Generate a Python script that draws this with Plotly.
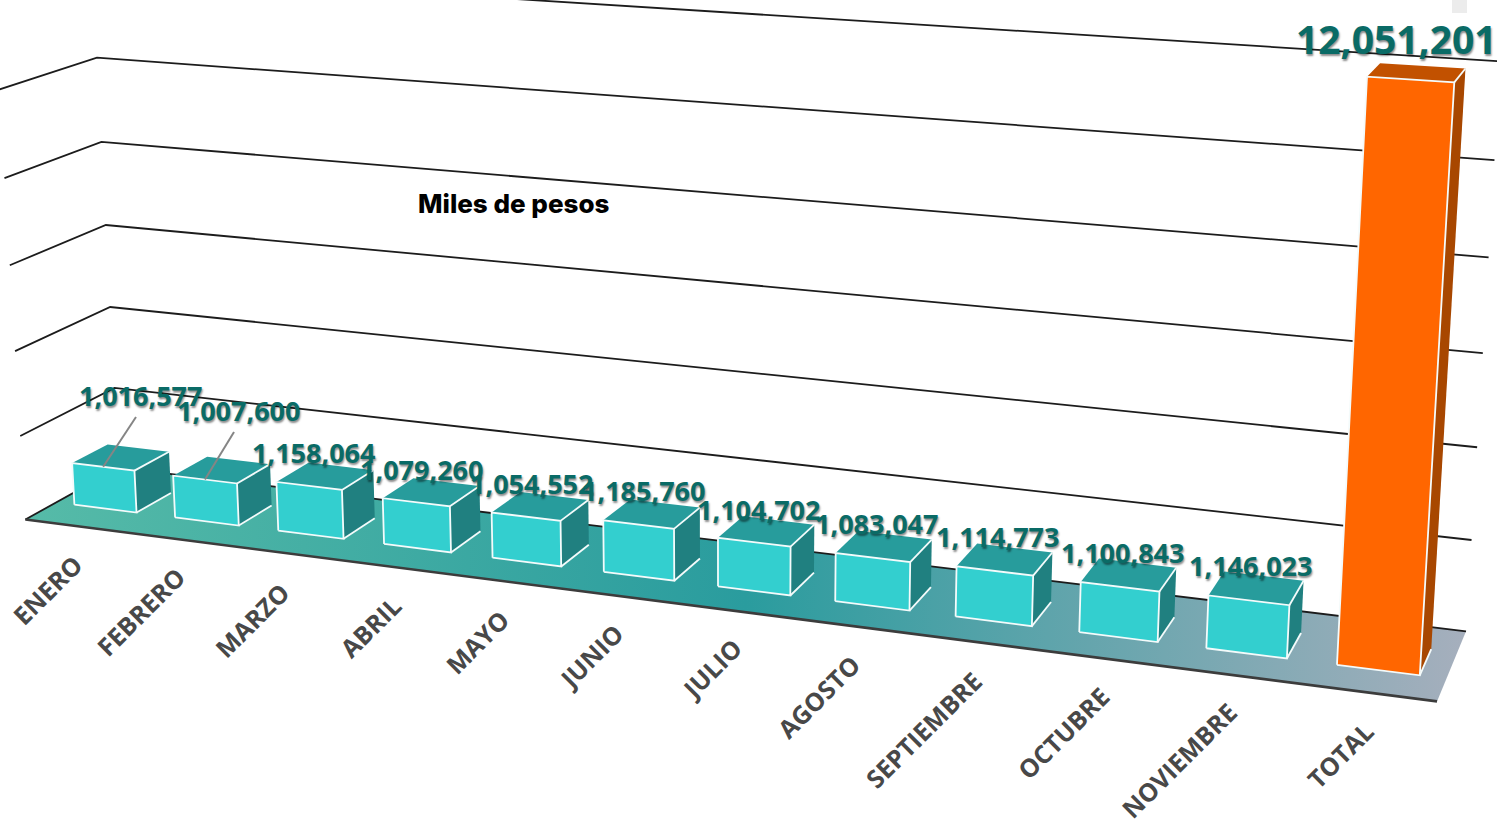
import numpy as np
import plotly.graph_objects as go

# ---------- data ----------
CATEGORIES = ["ENERO", "FEBRERO", "MARZO", "ABRIL", "MAYO", "JUNIO", "JULIO",
              "AGOSTO", "SEPTIEMBRE", "OCTUBRE", "NOVIEMBRE", "TOTAL"]
VALUES = [1016577, 1007600, 1158064, 1079260, 1054552, 1185760, 1104702,
          1083047, 1114773, 1100843, 1146023, 12051201]
VALUE_LABELS = [f"{v:,}" for v in VALUES]
GRID_VALUES = [0, 2000000, 4000000, 6000000, 8000000, 10000000, 12000000]
AXIS_TITLE = "Miles de pesos"

# ---------- layout: label centres on the canvas ----------
LABEL_POS = [(140, 395), (238, 410), (313, 452), (421, 469), (531, 483), (643, 490),
             (758, 509), (876, 523), (997, 536), (1122, 552), (1250, 565), (1396, 38)]
TICK_POS = [(47, 590), (140, 612), (252, 620), (370, 627), (477, 642), (591, 656),
            (711, 669), (818, 697), (923, 730), (1063, 733), (1179, 760), (1340, 755)]
W, H = 1497, 825
HALF = 0.31


# ---------- perspective view calibrations (scene coordinate -> canvas) ----------
def fit(cal):
    A, b = [], []
    for (p, q, r), (x, y) in cal:
        A.append([1, p, q, r, 0, 0, 0, 0, -x * p, -x * q, -x * r]); b.append(x)
        A.append([0, 0, 0, 0, 1, p, q, r, -y * p, -y * q, -y * r]); b.append(y)
    s = np.linalg.lstsq(np.array(A, float), np.array(b, float), rcond=None)[0]

    def proj(p, q, r):
        d = 1 + s[8] * p + s[9] * q + s[10] * r
        return (s[0] + s[1] * p + s[2] * q + s[3] * r) / d, (s[4] + s[5] * p + s[6] * q + s[7] * r) / d
    return proj


wall = fit([
    ((0, 0, 0), (26, 519)), ((1, 0, 0), (1437, 702)), ((1, 1, 0), (1465, 631)), ((0, 1, 0), (120, 470)),
    ((0, 1, 2), (115, 388)), ((0, 1, 4), (109, 306)), ((0, 1, 6), (105, 224)), ((0, 1, 8), (101, 141)), ((0, 1, 10), (97, 57)),
    ((0, 0, 2), (20, 436)), ((0, 0, 4), (15, 351)), ((0, 0, 6), (9, 265)), ((0, 0, 8), (4, 178)), ((0, 0, 10), (0, 90)),
    ((1, 1, 2), (1472, 540)), ((1, 1, 4), (1477, 447)), ((1, 1, 6), (1483, 353)), ((1, 1, 8), (1489, 257)), ((1, 1, 10), (1495, 160)),
    ((1, 1, 12), (1500, 62)), ((0, 1, 12), (93, -26)),
])
bar = fit([
    ((-.31, 0, 0), (74, 505)), ((.31, 0, 0), (136, 512)), ((.31, 1, 0), (171, 492)),
    ((-.31, 0, 1.0166), (73, 464)), ((.31, 0, 1.0166), (134, 470)), ((.31, 1, 1.0166), (168, 452)), ((-.31, 1, 1.0166), (109, 444)),
    ((.69, 0, 0), (175, 517)), ((1.31, 0, 0), (238, 525)), ((1.31, 1, 0), (272, 505)),
    ((.69, 0, 1.0076), (174, 476)), ((1.31, 0, 1.0076), (237, 483)), ((1.31, 1, 1.0076), (268, 465)),
    ((1.69, 0, 0), (278, 531)), ((2.31, 0, 0), (343, 538)), ((2.31, 1, 0), (376, 517)),
    ((1.69, 0, 1.158), (277, 483)), ((2.31, 0, 1.158), (342, 489)), ((2.31, 1, 1.158), (374, 473)),
    ((9.69, 0, 0), (1207, 648)), ((10.31, 0, 0), (1287, 658)), ((10.31, 1, 0), (1302, 632)),
    ((9.69, 0, 1.146), (1210, 597)), ((10.31, 0, 1.146), (1288, 605)), ((10.31, 1, 1.146), (1303, 580)), ((9.69, 1, 1.146), (1222, 575)),
    ((10.69, 0, 0), (1338, 665)), ((11.31, 0, 0), (1419, 675)), ((11.31, 1, 0), (1432, 648)),
    ((10.69, 0, 12.051), (1368, 77)), ((11.31, 0, 12.051), (1453, 83)), ((11.31, 1, 12.051), (1463, 68)), ((10.69, 1, 12.051), (1383, 62)),
])

fig = go.Figure()


def poly(points, **kw):
    xs = [None if p is None else p[0] for p in points]
    ys = [None if p is None else p[1] for p in points]
    fig.add_trace(go.Scatter(x=xs, y=ys, showlegend=False, hoverinfo="skip", **kw))


# floor with its gradient
poly([wall(0, 0, 0), wall(1, 0, 0), wall(1, 1, 0), wall(0, 1, 0), wall(0, 0, 0)],
     mode="none", fill="toself",
     fillgradient=dict(type="horizontal", colorscale=[[0, "#56BBA8"], [0.5, "#2A9C9E"], [1, "#A6AFBD"]]))

# grid lines on the walls
for g in GRID_VALUES:
    m = g / 1e6
    poly([wall(0, 0, m), wall(0, 1, m), wall(1, 1, m)], mode="lines",
         line=dict(color="#1c1c1c", width=1.8))

# floor front edge
poly([wall(0, 0, 0), wall(1, 0, 0)], mode="lines", line=dict(color="#3c3c3c", width=2.6))

# bars
for i, (name, v) in enumerate(zip(CATEGORIES, VALUES)):
    m = v / 1e6
    fl, fr = i - HALF, i + HALF
    front, top, side = ("#FF6600", "#C25100", "#A84700") if name == "TOTAL" else ("#33CFCF", "#279C9C", "#208080")
    poly([bar(fr, 0, 0), bar(fr, 1, 0), bar(fr, 1, m), bar(fr, 0, m), bar(fr, 0, 0)],
         mode="none", fill="toself", fillcolor=side)
    poly([bar(fl, 0, m), bar(fr, 0, m), bar(fr, 1, m), bar(fl, 1, m), bar(fl, 0, m)],
         mode="none", fill="toself", fillcolor=top)
    poly([bar(fl, 0, 0), bar(fr, 0, 0), bar(fr, 0, m), bar(fl, 0, m), bar(fl, 0, 0)],
         mode="none", fill="toself", fillcolor=front)
    poly([bar(fl, 0, 0), bar(fr, 0, 0), bar(fr, 0, m), bar(fl, 0, m), bar(fl, 0, 0), None,
          bar(fr, 0, m), bar(fr, 1, m), None, bar(fr, 0, 0), bar(fr, 1, 0)],
         mode="lines", line=dict(color="#F4FBFB", width=1.8))

# leader lines of the first two labels
for i in (0, 1):
    lx, ly = LABEL_POS[i]
    poly([(lx - 4, ly + 22), bar(i, 0, VALUES[i] / 1e6)], mode="lines",
         line=dict(color="#858585", width=2))

ann = []
for i, t in enumerate(VALUE_LABELS):
    big = CATEGORIES[i] == "TOTAL"
    ann.append(dict(x=LABEL_POS[i][0], y=LABEL_POS[i][1], text=t, showarrow=False,
                    xanchor="center", yanchor="middle",
                    font=dict(family="Open Sans", size=39 if big else 27, color="#0A6B66", weight=700,
                              shadow="1px 2px 2px rgba(0,0,0,0.45)")))
for i, t in enumerate(CATEGORIES):
    ann.append(dict(x=TICK_POS[i][0], y=TICK_POS[i][1], text=t, showarrow=False, textangle=-45,
                    xanchor="center", yanchor="middle",
                    font=dict(family="Open Sans", size=25, color="#484848", weight=700)))
ann.append(dict(x=514, y=203, text=AXIS_TITLE, showarrow=False, xanchor="center", yanchor="middle",
                font=dict(family="Inter", size=26, color="#000000", weight=800)))

fig.update_layout(
    width=W, height=H, margin=dict(l=0, r=0, t=0, b=0, pad=0),
    paper_bgcolor="white", plot_bgcolor="white", showlegend=False,
    xaxis=dict(range=[0, W], visible=False, fixedrange=True),
    yaxis=dict(range=[H, 0], visible=False, fixedrange=True),
    annotations=ann,
    shapes=[dict(type="rect", x0=1452, x1=1467, y0=0, y1=13, line_width=0, fillcolor="#ECECEC", layer="below")],
)
fig.write_html("out.html", post_script="document.body.style.margin='0';document.body.style.overflow='hidden';",
               config=dict(displayModeBar=False))
